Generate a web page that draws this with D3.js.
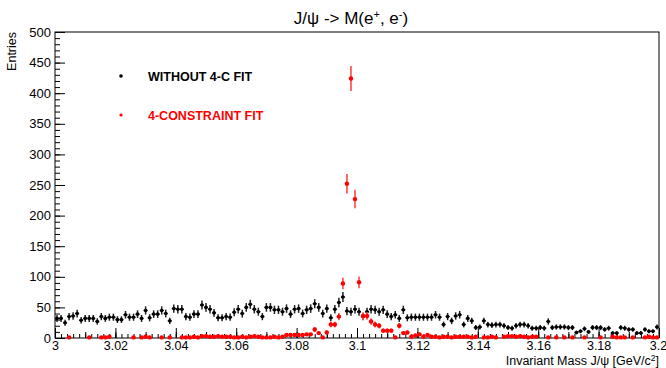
<!DOCTYPE html>
<html>
<head>
<meta charset="utf-8">
<script src="https://cdn.jsdelivr.net/npm/d3@7"></script>
<style>
html,body{margin:0;padding:0;background:#fff;}
svg{display:block;font-family:"Liberation Sans",Arial,Helvetica,sans-serif;}
</style>
</head>
<body>
<svg id="chart" width="666" height="368"></svg>
<script>
// ---- data ----
const xMin = 3.0, xMax = 3.2, nBins = 150;
const xTicks = [3.0, 3.02, 3.04, 3.06, 3.08, 3.1, 3.12, 3.14, 3.16, 3.18, 3.2];
const xTickLabels = ["3", "3.02", "3.04", "3.06", "3.08", "3.1", "3.12", "3.14", "3.16", "3.18", "3.2"];
const yTicks = [0, 50, 100, 150, 200, 250, 300, 350, 400, 450, 500];
const yTickLabels = ["0", "50", "100", "150", "200", "250", "300", "350", "400", "450", "500"];

const withoutFit = [
  32,32,25,35,36,40,29,32,32,32, 27,35,32,34,34,30,30,38,34,34,
  39,32,45,33,39,39,45,40,28,48, 47,47,35,34,39,39,54,50,47,41,
  33,33,35,34,42,47,40,50,55,47, 43,35,50,50,46,46,43,48,39,47,
  48,40,46,48,56,50,40,48,33,47, 58,67,44,43,47,43,35,43,47,46,
  43,46,39,35,38,32,46,33,34,34, 34,34,34,34,38,34,22,35,28,36,
  38,22,32,28,17,18,28,22,21,22, 22,20,17,16,20,22,22,20,16,16,
  17,16,27,17,18,18,18,17,17,9, 11,15,10,17,17,17,14,16,8,8,
  17,16,14,14,8,8,14,11,11,18
];
const constraintFit = [
  0,0,0,1,0,0,0,0,1,0, 0,1,1,2,0,0,0,0,0,1,
  0,1,2,1,0,0,1,0,1,0, 0,1,1,1,2,1,3,3,2,2,
  3,2,2,2,1,1,2,1,2,3, 2,1,1,1,2,1,2,5,5,5,
  5,5,6,6,14,8,1,9,22,22, 35,89,252,424,227,91,36,36,27,22,
  20,12,12,12,1,20,8,9,2,4, 6,2,5,2,2,1,2,2,1,2,
  2,2,2,1,2,0,1,1,2,1, 0,2,3,3,2,3,2,1,2,2,
  0,0,1,0,1,0,1,0,1,0, 0,1,0,0,0,1,0,0,2,1,
  1,1,0,1,0,0,1,2,1,1
];
const seriesNames = ["WITHOUT 4-C FIT", "4-CONSTRAINT FIT"];
const seriesColors = ["#000000", "#ff0000"];

// ---- layout ----
const L = 55, R = 659, T = 32, B = 338;
const svg = d3.select("#chart");
const x = d3.scaleLinear().domain([xMin, xMax]).range([L, R]);
const y = d3.scaleLinear().domain([0, 500]).range([B, T]);
const bw = (xMax - xMin) / nBins;

// title
const title = svg.append("text").attr("x", 351).attr("y", 24).attr("text-anchor", "middle")
  .attr("font-size", 17).attr("fill", "#000");
title.append("tspan").text("J/\u03c8 -> M(e");
title.append("tspan").attr("dy", -6).attr("font-size", 11).text("+");
title.append("tspan").attr("dy", 6).text(", e");
title.append("tspan").attr("dy", -6).attr("font-size", 11).text("-");
title.append("tspan").attr("dy", 6).text(")");

// axes
const yMinor = d3.range(0, 501, 10);
svg.append("g").attr("transform", `translate(${L},0)`)
  .call(d3.axisLeft(y).tickValues(yMinor).tickSize(-5).tickFormat(""))
  .call(g => { g.select(".domain").remove(); g.selectAll("line").attr("stroke", "#000"); });
svg.append("g").attr("transform", `translate(${L},0)`)
  .call(d3.axisLeft(y).tickValues(yTicks).tickSize(-10).tickPadding(4)
    .tickFormat((d, i) => yTickLabels[i]))
  .call(g => {
    g.select(".domain").remove();
    g.selectAll("line").attr("stroke", "#000");
    g.selectAll("text").attr("font-size", 13).attr("fill", "#000")
      .attr("font-family", "Liberation Sans, Arial, sans-serif");
  });

const xMinor = d3.range(0, 101).map(i => xMin + i * 0.002);
svg.append("g").attr("transform", `translate(0,${B})`)
  .call(d3.axisBottom(x).tickValues(xMinor).tickSize(-4).tickFormat(""))
  .call(g => { g.select(".domain").remove(); g.selectAll("line").attr("stroke", "#000"); });
const xMid = d3.range(0, 21).map(i => xMin + i * 0.01);
svg.append("g").attr("transform", `translate(0,${B})`)
  .call(d3.axisBottom(x).tickValues(xMid).tickSize(-6).tickFormat(""))
  .call(g => { g.select(".domain").remove(); g.selectAll("line").attr("stroke", "#000"); });
svg.append("g").attr("transform", `translate(0,${B})`)
  .call(d3.axisBottom(x).tickValues(xTicks).tickSize(-10).tickPadding(3)
    .tickFormat((d, i) => xTickLabels[i]))
  .call(g => {
    g.select(".domain").remove();
    g.selectAll("line").attr("stroke", "#000");
    g.selectAll("text").attr("font-size", 12.5).attr("fill", "#000")
      .attr("font-family", "Liberation Sans, Arial, sans-serif");
    g.selectAll(".tick:last-of-type text").attr("dx", "-1");
  });

// frame
svg.append("rect").attr("x", L).attr("y", T).attr("width", R - L).attr("height", B - T)
  .attr("fill", "none").attr("stroke", "#000").attr("stroke-width", 1);

// axis titles
const xt = svg.append("text").attr("x", R).attr("y", 365).attr("text-anchor", "end")
  .attr("font-size", 12.5).attr("fill", "#000");
xt.append("tspan").text("Invariant Mass J/\u03c8 [GeV/c");
xt.append("tspan").attr("dy", -4).attr("font-size", 8.5).text("2");
xt.append("tspan").attr("dy", 4).text("]");
svg.append("text").attr("transform", `translate(16,${T}) rotate(-90)`).attr("text-anchor", "end")
  .attr("font-size", 12.5).attr("fill", "#000").text("Entries");

// data series
function drawSeries(vals, color, r, barColor, barW) {
  const pts = vals.map((v, i) => ({ lo: xMin + i * bw, hi: xMin + (i + 1) * bw, c: xMin + (i + 0.5) * bw, v }))
    .filter(d => d.v > 0);
  const g = svg.append("g");
  g.selectAll(".v").data(pts).join("line")
    .attr("x1", d => x(d.c)).attr("x2", d => x(d.c))
    .attr("y1", d => y(d.v + Math.sqrt(d.v))).attr("y2", d => y(Math.max(0, d.v - Math.sqrt(d.v))))
    .attr("stroke", barColor).attr("stroke-width", barW);
  g.selectAll(".h").data(pts).join("line")
    .attr("x1", d => x(d.lo)).attr("x2", d => x(d.hi))
    .attr("y1", d => y(d.v)).attr("y2", d => y(d.v))
    .attr("stroke", barColor).attr("stroke-width", barW);
  g.selectAll("circle").data(pts).join("circle")
    .attr("cx", d => x(d.c)).attr("cy", d => y(d.v)).attr("r", r).attr("fill", color);
}
drawSeries(withoutFit, seriesColors[0], 1.8, "#222", 1.5);
drawSeries(constraintFit, seriesColors[1], 2.2, "#ff5a5a", 1.8);

// legend
const legY = [76, 115];
seriesNames.forEach((n, i) => {
  svg.append("circle").attr("cx", 121).attr("cy", legY[i]).attr("r", i === 0 ? 1.8 : 1.6)
    .attr("fill", seriesColors[i]);
  svg.append("text").attr("x", 148).attr("y", legY[i] + 5).attr("font-size", 12.5)
    .attr("font-weight", "bold").attr("fill", seriesColors[i]).text(n);
});
</script>
</body>
</html>
